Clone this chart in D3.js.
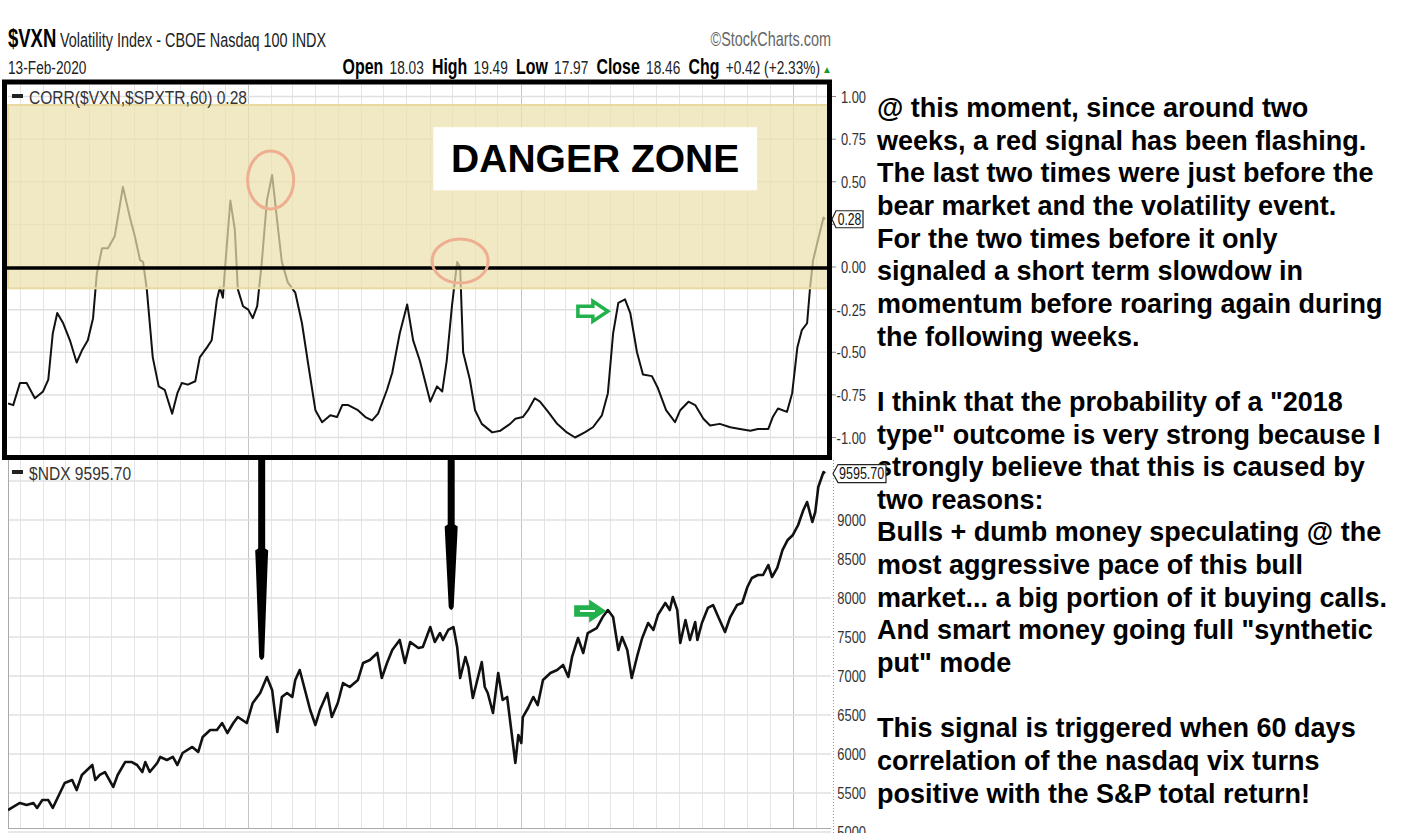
<!DOCTYPE html>
<html>
  <head>
    <meta charset="utf-8" />
    <title>$VXN correlation vs $NDX</title>
    <style>
      body {
        margin: 0;
        background: #fff;
      }
      svg {
        display: block;
        font-family: "Liberation Sans", Arial, sans-serif;
      }
      .note {
        font-weight: bold;
        font-size: 27px;
      }
    </style>
    <script src="https://cdn.jsdelivr.net/npm/d3@7"></script>
  </head>
  <body>
    <div id="chart"></div>
    <script>
      // chart window: 13-Feb-2017 .. 13-Feb-2020, positions below are days since start
      const startDate = new Date(2017, 1, 13);
      const endDate = new Date(2020, 1, 13);

      // CORR($VXN,$SPXTR,60)
      const corrDay = [0, 7, 16, 25, 36, 47, 54, 60, 66, 74, 83, 92, 99, 107, 114, 119, 126, 134, 143, 154,
        164, 170, 177, 181, 186, 194, 202, 210, 220, 227, 233, 241, 251, 257, 267, 273, 280, 284, 288, 291,
        298, 304, 308, 315, 322, 328, 334, 340, 347, 354, 361, 367, 375, 385, 394, 402, 412, 421, 432, 441,
        448, 456, 469, 479, 488, 496, 508, 515, 525, 535, 543, 552, 566, 575, 582, 588, 595, 602, 606, 610,
        619, 626, 635, 649, 660, 673, 680, 690, 697, 706, 713, 724, 736, 749, 760, 773, 784, 796, 804, 811,
        818, 827, 834, 843, 851, 863, 871, 882, 894, 901, 912, 921, 932, 941, 954, 968, 981, 995, 1005, 1019,
        1025, 1032, 1044, 1051, 1058, 1064, 1071, 1075, 1079, 1093, 1095];
      const corrVal = [-0.80, -0.81, -0.68, -0.68, -0.77, -0.73, -0.66, -0.39, -0.27, -0.33, -0.43, -0.56, -0.49, -0.43, -0.30, -0.04, 0.11, 0.11, 0.18, 0.47,
        0.28, 0.18, 0.04, 0.03, -0.13, -0.53, -0.70, -0.72, -0.86, -0.74, -0.68, -0.69, -0.67, -0.53, -0.47, -0.43, -0.19, -0.12, -0.18, 0.00,
        0.39, 0.22, -0.13, -0.23, -0.25, -0.30, -0.23, 0.02, 0.39, 0.54, 0.26, 0.03, -0.09, -0.15, -0.33, -0.56, -0.84, -0.91, -0.87, -0.88,
        -0.81, -0.81, -0.84, -0.88, -0.90, -0.86, -0.72, -0.62, -0.39, -0.22, -0.43, -0.55, -0.79, -0.70, -0.73, -0.55, -0.23, 0.03, 0.00, -0.50,
        -0.66, -0.84, -0.92, -0.97, -0.96, -0.92, -0.89, -0.88, -0.84, -0.77, -0.79, -0.85, -0.92, -0.97, -1.00, -0.97, -0.94, -0.87, -0.74, -0.39,
        -0.21, -0.19, -0.27, -0.50, -0.63, -0.64, -0.71, -0.84, -0.91, -0.84, -0.79, -0.81, -0.89, -0.93, -0.92, -0.94, -0.95, -0.96, -0.95, -0.95,
        -0.88, -0.83, -0.85, -0.74, -0.47, -0.37, -0.33, -0.12, 0.04, 0.29, 0.28];

      // $NDX close
      const ndxDay = [0, 7, 16, 25, 34, 39, 46, 54, 60, 67, 76, 86, 92, 99, 106, 113, 117, 123, 130, 141,
        147, 157, 166, 173, 180, 184, 190, 200, 204, 213, 221, 227, 234, 247, 255, 261, 271, 280, 287, 294,
        302, 308, 320, 328, 338, 347, 354, 361, 367, 374, 381, 385, 391, 398, 405, 412, 418, 428, 434, 442,
        449, 458, 469, 476, 485, 495, 501, 508, 515, 525, 532, 539, 550, 556, 566, 572, 579, 583, 590, 597,
        602, 606, 613, 617, 623, 630, 635, 639, 643, 650, 657, 663, 669, 675, 680, 684, 688, 690, 697, 704,
        710, 717, 727, 736, 744, 751, 756, 764, 771, 777, 789, 797, 804, 811, 818, 823, 830, 836, 843, 850,
        858, 865, 871, 881, 887, 891, 897, 901, 908, 914, 921, 924, 930, 938, 945, 952, 961, 968, 977, 984,
        991, 997, 1005, 1012, 1019, 1024, 1031, 1038, 1045, 1052, 1059, 1066, 1071, 1078, 1082, 1086, 1093, 1095];
      const ndxVal = [5282, 5321, 5372, 5346, 5372, 5308, 5410, 5410, 5308, 5449, 5628, 5667, 5538, 5731, 5795, 5859, 5667, 5731, 5769, 5577,
        5731, 5897, 5897, 5859, 5769, 5897, 5769, 5885, 5962, 5923, 5962, 5859, 6013, 6090, 6026, 6218, 6308, 6308, 6397, 6269,
        6397, 6474, 6397, 6654, 6782, 6987, 6821, 6282, 6731, 6782, 6731, 6949, 7077, 6821, 6564, 6372, 6564, 6782, 6474, 6654,
        6910, 6859, 6949, 7167, 7205, 7295, 6974, 7167, 7333, 7462, 7167, 7436, 7359, 7372, 7628, 7436, 7551, 7462, 7590, 7628,
        7372, 6974, 7244, 7115, 6718, 6987, 7179, 6859, 6782, 6526, 7038, 6692, 6731, 6269, 5885, 6244, 6141, 6474, 6590, 6731,
        6628, 6949, 7038, 7077, 7141, 6987, 7244, 7487, 7295, 7551, 7615, 7756, 7846, 7756, 7333, 7500, 7333, 6974, 7244, 7487,
        7679, 7590, 7782, 7936, 7846, 8013, 7846, 7423, 7718, 7462, 7692, 7462, 7679, 7872, 7910, 7756, 7564, 7756, 7910, 7936,
        8141, 8256, 8295, 8295, 8423, 8269, 8385, 8615, 8744, 8808, 8936, 9128, 9231, 8974, 9103, 9423, 9615, 9595.7];

      const corrTicks = [1, 0.75, 0.5, 0.25, 0, -0.25, -0.5, -0.75, -1];
      const corrLabels = ["1.00", "0.75", "0.50", "", "0.00", "-0.25", "-0.50", "-0.75", "-1.00"];
      const ndxTicks = [5000, 5500, 6000, 6500, 7000, 7500, 8000, 8500, 9000, 9500];
      const ndxLabels = ["5000", "5500", "6000", "6500", "7000", "7500", "8000", "8500", "9000", ""];

      // annotations (days since start, values on the panel's scale)
      const dangerZone = [-0.125, 0.95];
      const circleDay = [352, 606];
      const circleVal = [0.51, 0.035];
      const blackArrowDay = [340, 594];
      const blackArrowTip = [7205, 7846];
      const greenArrowDay = [804, 800];

      const noteLines = [
        "@ this moment, since around two",
        "weeks, a red signal has been flashing.",
        "The last two times were just before the",
        "bear market and the volatility event.",
        "For the two times before it only",
        "signaled a short term slowdow in",
        "momentum before roaring again during",
        "the following weeks.",
        "",
        "I think that the probability of a \"2018",
        "type\" outcome is very strong because I",
        "strongly believe that this is caused by",
        "two reasons:",
        "Bulls + dumb money speculating @ the",
        "most aggressive pace of this bull",
        "market... a big portion of it buying calls.",
        "And smart money going full \"synthetic",
        "put\" mode",
        "",
        "This signal is triggered when 60 days",
        "correlation of the nasdaq vix turns",
        "positive with the S&P total return!",
      ];

      const width = 1413,
        height = 833;
      const day = (d) => d3.timeDay.offset(startDate, d);

      const svg = d3
        .select("#chart")
        .append("svg")
        .attr("width", width)
        .attr("height", height)
        .attr("viewBox", [0, 0, width, height]);

      svg.append("rect").attr("width", width).attr("height", height).attr("fill", "#fff");

      // no narrow font installed: squeeze Liberation Sans into a condensed face
      function narrow(parent, x, y, size, sx = 0.74) {
        return parent
          .append("g")
          .attr("transform", `translate(${x},${y}) scale(${sx},1)`)
          .append("text")
          .attr("font-size", size);
      }

      const x = d3.scaleTime().domain([startDate, endDate]).range([8, 825]);
      const plotLeft = 8,
        plotRight = 831;
      const top1 = 85,
        bot1 = 455,
        top2 = 460,
        bot2 = 828;
      const yC = d3.scaleLinear().domain([-1, 1]).range([437.5, 96.5]);
      const yN = d3.scaleLinear().domain([5500, 9000]).range([793, 520]);

      const months = d3.timeMonth.range(d3.timeMonth.ceil(startDate), endDate);

      // ---- header
      const head = svg.append("g");
      const h1 = narrow(head, 8, 47, 25);
      h1.append("tspan").attr("font-weight", "bold").text("$VXN");
      h1.append("tspan").attr("dx", 5).attr("font-size", 19.5).attr("fill", "#222").text("Volatility Index - CBOE Nasdaq 100  INDX");
      narrow(head, 831, 46, 19.5).attr("text-anchor", "end").attr("fill", "#666").text("©StockCharts.com");
      narrow(head, 8, 74, 18.5).attr("fill", "#222").text("13-Feb-2020");
      const quote = [
        ["Open", "18.03"],
        ["High", "19.49"],
        ["Low", "17.97"],
        ["Close", "18.46"],
        ["Chg", "+0.42 (+2.33%)"],
      ];
      const h2 = narrow(head, 820, 74, 18.5).attr("text-anchor", "end");
      quote.forEach(([k, v], i) => {
        h2.append("tspan").attr("dx", i ? 11 : 0).attr("font-weight", "bold").attr("font-size", 21.5).text(k);
        h2.append("tspan").attr("dx", 8.5).attr("fill", "#222").text(v);
      });
      head.append("text").attr("x", 822).attr("y", 73).attr("font-size", 10).attr("fill", "#1a9a2a").text("▲");

      // ---- grid helper
      function grid(g, y, ticks, yTop, yBot) {
        g.append("g")
          .selectAll("line")
          .data(months)
          .join("line")
          .attr("x1", (d) => Math.round(x(d)) + 0.5)
          .attr("x2", (d) => Math.round(x(d)) + 0.5)
          .attr("y1", yTop)
          .attr("y2", yBot)
          .attr("stroke", (d) => (d.getMonth() === 0 ? "#c4c4c4" : "#e4e4e4"));
        g.append("g")
          .selectAll("line")
          .data(ticks)
          .join("line")
          .attr("x1", plotLeft)
          .attr("x2", plotRight)
          .attr("y1", (d) => y(d))
          .attr("y2", (d) => y(d))
          .attr("stroke", "#e0e0e0")
          .attr("stroke-width", 1.5);
      }

      // ---- top panel: correlation
      svg.append("clipPath").attr("id", "clip1").append("rect").attr("x", plotLeft).attr("y", top1).attr("width", plotRight - plotLeft).attr("height", bot1 - top1);
      const p1 = svg.append("g");
      grid(p1, yC, corrTicks, top1, bot1);

      const corr = corrDay.map((d, i) => ({ date: day(d), value: corrVal[i] }));
      p1.append("path")
        .datum(corr)
        .attr("clip-path", "url(#clip1)")
        .attr("fill", "none")
        .attr("stroke", "#111")
        .attr("stroke-width", 2)
        .attr("stroke-linejoin", "round")
        .attr("d", d3.line().x((d) => x(d.date)).y((d) => yC(d.value)));

      // danger zone band
      p1.append("rect")
        .attr("x", plotLeft)
        .attr("y", yC(dangerZone[1]))
        .attr("width", plotRight - 3 - plotLeft)
        .attr("height", yC(dangerZone[0]) - yC(dangerZone[1]))
        .attr("fill", "rgb(236,224,172)")
        .attr("fill-opacity", 0.72)
        .attr("stroke", "rgb(232,218,160)")
        .attr("stroke-width", 2);

      // zero line
      p1.append("line")
        .attr("x1", 5)
        .attr("x2", 829)
        .attr("y1", yC(0) + 1)
        .attr("y2", yC(0) + 1)
        .attr("stroke", "#000")
        .attr("stroke-width", 3.5);

      // circles around the peaks
      p1.selectAll("ellipse")
        .data(circleDay)
        .join("ellipse")
        .attr("cx", (d) => x(day(d)))
        .attr("cy", (d, i) => yC(circleVal[i]))
        .attr("rx", (d, i) => (i ? 28 : 23))
        .attr("ry", (d, i) => (i ? 22 : 29))
        .attr("fill", "none")
        .attr("stroke", "#eeae92")
        .attr("stroke-width", 3);

      // DANGER ZONE label
      const dz = p1.append("g");
      dz.append("rect")
        .attr("x", x(day(570)))
        .attr("y", yC(0.82))
        .attr("width", x(day(1004)) - x(day(570)))
        .attr("height", yC(0.45) - yC(0.82))
        .attr("fill", "#fff");
      dz.append("text")
        .attr("x", (x(day(570)) + x(day(1004))) / 2)
        .attr("y", yC(0.56))
        .attr("text-anchor", "middle")
        .attr("font-weight", "bold")
        .attr("font-size", 39)
        .attr("fill", "#000")
        .text("DANGER ZONE");

      // legend
      p1.append("rect").attr("x", 12).attr("y", 94).attr("width", 11).attr("height", 4).attr("fill", "#222");
      narrow(p1, 29, 104, 19, 0.82).attr("fill", "#333").text("CORR($VXN,$SPXTR,60) 0.28");

      // right axis
      const ax1 = svg.append("g").attr("fill", "#333");
      ax1.selectAll("line")
        .data(corrTicks)
        .join("line")
        .attr("x1", 832)
        .attr("x2", 836)
        .attr("y1", (d) => yC(d))
        .attr("y2", (d) => yC(d))
        .attr("stroke", "#888");
      corrTicks.forEach((d, i) => {
        narrow(ax1, 866, yC(d) + 6, 17, 0.76).attr("text-anchor", "end").text(corrLabels[i]);
      });

      // last value tag
      const tagY1 = yC(corrVal[corrVal.length - 1]);
      ax1.append("path")
        .attr("d", `M832,${tagY1} L836,${tagY1 - 8.5} H863 V${tagY1 + 8.5} H836 Z`)
        .attr("fill", "#fff")
        .attr("stroke", "#222")
        .attr("stroke-width", 1.2);
      narrow(ax1, 849.5, tagY1 + 5.5, 16, 0.76).attr("text-anchor", "middle").attr("fill", "#111").text("0.28");

      // green hollow arrow in the top panel
      function blockArrow(tx, ty) {
        return `M${tx - 30},${ty - 5} H${tx - 15} V${ty - 10} L${tx},${ty} L${tx - 15},${ty + 10} V${ty + 5} H${tx - 30} Z`;
      }
      p1.append("path")
        .attr("d", blockArrow(x(day(greenArrowDay[0])), yC(-0.26)))
        .attr("fill", "#fff")
        .attr("stroke", "#22b14c")
        .attr("stroke-width", 3.5)
        .attr("stroke-linejoin", "miter");

      // ---- bottom panel: $NDX
      svg.append("clipPath").attr("id", "clip2").append("rect").attr("x", plotLeft).attr("y", top2).attr("width", plotRight - plotLeft).attr("height", bot2 - top2);
      const p2 = svg.append("g");
      grid(p2, yN, ndxTicks, top2, bot2);
      p2.append("line").attr("x1", plotLeft + 0.5).attr("x2", plotLeft + 0.5).attr("y1", top2).attr("y2", bot2).attr("stroke", "#aaa");
      p2.append("line").attr("x1", plotLeft).attr("x2", plotRight).attr("y1", bot2 + 0.5).attr("y2", bot2 + 0.5).attr("stroke", "#aaa");
      p2.append("line")
        .attr("x1", 833.5)
        .attr("x2", 833.5)
        .attr("y1", top2)
        .attr("y2", height)
        .attr("stroke", "#999")
        .attr("stroke-dasharray", "1,2");

      const ndx = ndxDay.map((d, i) => ({ date: day(d), value: ndxVal[i] }));
      p2.append("path")
        .datum(ndx)
        .attr("clip-path", "url(#clip2)")
        .attr("fill", "none")
        .attr("stroke", "#111")
        .attr("stroke-width", 2.6)
        .attr("stroke-linejoin", "round")
        .attr("d", d3.line().x((d) => x(d.date)).y((d) => yN(d.value)));

      p2.append("rect").attr("x", 12).attr("y", 470).attr("width", 11).attr("height", 4).attr("fill", "#222");
      narrow(p2, 29, 480, 19, 0.82).attr("fill", "#333").text("$NDX 9595.70");

      const ax2 = svg.append("g").attr("fill", "#333");
      ndxTicks.forEach((d, i) => {
        narrow(ax2, 866, yN(d) + 6, 17, 0.76).attr("text-anchor", "end").text(ndxLabels[i]);
      });

      // green filled arrow in the bottom panel
      const gx = x(day(greenArrowDay[1])),
        gy = yN(7833);
      p2.append("path").attr("d", blockArrow(gx, gy)).attr("fill", "#22b14c").attr("stroke", "#22b14c").attr("stroke-width", 1.5);
      p2.append("line").attr("x1", gx - 25).attr("x2", gx - 10).attr("y1", gy).attr("y2", gy).attr("stroke", "#fff").attr("stroke-width", 2);

      // ---- black hand-drawn arrows
      function brushArrow(cx, y0, y1) {
        const b = y0 + 0.48 * (y1 - y0);
        return `M${cx - 3.5},${y0} H${cx + 3.5} V${b - 6} L${cx + 6.5},${b - 4} L${cx + 6},${b + 7} L${cx + 2.5},${y1 - 3} Q${cx},${y1 + 3} ${cx - 2.5},${y1 - 3} L${cx - 6},${b + 7} L${cx - 6.5},${b - 4} L${cx - 3.5},${b - 6} Z`;
      }
      svg.append("g")
        .selectAll("path")
        .data(blackArrowDay)
        .join("path")
        .attr("d", (d, i) => brushArrow(x(day(d)), 457, yN(blackArrowTip[i])))
        .attr("fill", "#000");

      // black frame around the correlation panel
      svg.append("rect")
        .attr("x", 4.5)
        .attr("y", 82)
        .attr("width", 825)
        .attr("height", 375.5)
        .attr("fill", "none")
        .attr("stroke", "#000")
        .attr("stroke-width", 5);

      // ---- commentary
      svg.append("g")
        .attr("class", "note")
        .selectAll("text")
        .data(noteLines)
        .join("text")
        .attr("x", 877)
        .attr("y", (d, i) => 117 + i * 32.65)
        .attr("fill", "#000")
        .text((d) => d);

      // last value tag of $NDX, drawn over the commentary like in the original
      const tagY2 = Math.max(yN(ndxVal[ndxVal.length - 1]), top2 + 9);
      svg.append("path")
        .attr("d", `M833,${tagY2} L838,${tagY2 - 9} H886 V${tagY2 + 9} H838 Z`)
        .attr("fill", "#fff")
        .attr("stroke", "#222")
        .attr("stroke-width", 1.2);
      narrow(svg, 839, tagY2 + 5.5, 16.5, 0.76).attr("fill", "#111").text("9595.70");
    </script>
  </body>
</html>
